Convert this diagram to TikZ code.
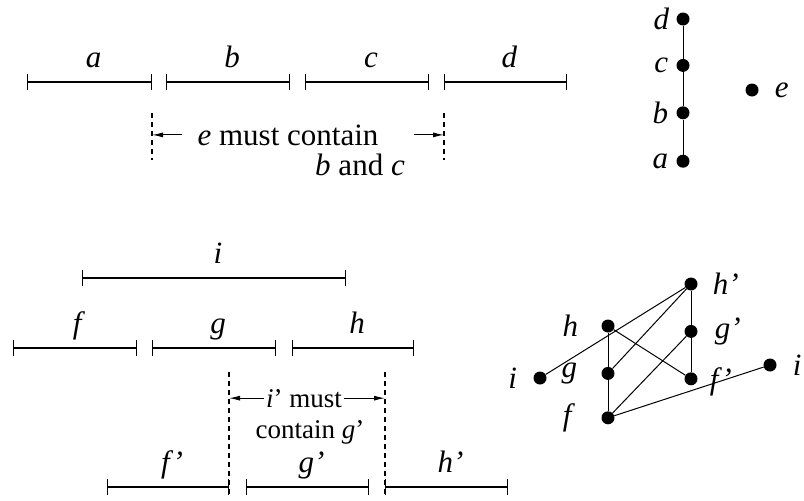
\documentclass[tikz,border=0pt]{standalone}
\usepackage{fontspec}
\setmainfont{Liberation Serif}
\usetikzlibrary{arrows.meta,positioning}

\begin{document}
\begin{tikzpicture}[
    x=1pt, y=-1pt,
    font=\fontsize{31pt}{34pt}\selectfont,
    ival/.style={arrows={Bar[width=16pt]-Bar[width=16pt]}, line width=1.3pt},
    ilbl/.style={midway, anchor=base, yshift=15pt, xshift=4pt, inner sep=0pt},
    guide/.style={dash pattern=on 5pt off 4pt, line width=1.1pt},
    arrow/.style={-{Latex[length=11pt,width=5pt]}, line width=1pt},
    txt/.style={anchor=base, inner sep=1pt},
    note/.style={anchor=base, inner sep=0pt, font=\fontsize{27pt}{30pt}\selectfont},
    dot/.style={circle, fill, inner sep=0pt, minimum size=13pt},
    plbl/.style={inner sep=0pt},
    edge/.style={line width=1pt}
]
    \useasboundingbox (0,0) rectangle (804,501);

    % Top intervals
    \coordinate (a1) at (27,82);  \coordinate (a2) at (152,82);
    \coordinate (b1) at (166,82); \coordinate (b2) at (290,82);
    \coordinate (c1) at (305,82); \coordinate (c2) at (429,82);
    \coordinate (d1) at (444,82); \coordinate (d2) at (567,82);
    \draw[ival] (a1) -- node[ilbl] (la) {\textit{a}} (a2);
    \draw[ival] (b1) -- node[ilbl] (lb) {\textit{b}} (b2);
    \draw[ival] (c1) -- node[ilbl] (lc) {\textit{c}} (c2);
    \draw[ival] (d1) -- node[ilbl] (ld) {\textit{d}} (d2);

    % Top note
    \coordinate (gtL1) at (152,113); \coordinate (gtL2) at (152,160);
    \coordinate (gtR1) at (444,113); \coordinate (gtR2) at (444,160);
    \draw[guide] (gtL1) -- (gtL2);
    \draw[guide] (gtR1) -- (gtR2);
    \node[txt] (emust) at (288,145) {\textit{e} must contain};
    \node[txt] (bandc) at (360,175) {\textit{b} and \textit{c}};
    \draw[arrow] ([xshift=-14pt]emust.west) -- (emust.west -| gtL1);
    \draw[arrow] ([xshift=34pt]emust.east) -- (emust.east -| gtR1);

    % Top poset
    \node[dot] (pd) at (683,19) {};
    \node[dot, below=33pt of pd] (pc) {};
    \node[dot, below=34pt of pc] (pb) {};
    \node[dot, below=35pt of pb] (pa) {};
    \node[dot] (pe) at (752,90) {};
    \node[plbl, left=7pt of pd] (lpd) {\textit{d}};
    \node[plbl, left=8pt of pc] (lpc) {\textit{c}};
    \node[plbl, left=8pt of pb] (lpb) {\textit{b}};
    \node[plbl, left=8pt of pa] (lpa) {\textit{a}};
    \node[plbl, right=16pt of pe] (lpe) {\textit{e}};
    \draw[edge] (pd) -- (pc) -- (pb) -- (pa);

    % Bottom intervals
    \coordinate (i1) at (82,278);   \coordinate (i2) at (346,278);
    \coordinate (f1) at (13,348);   \coordinate (f2) at (137,348);
    \coordinate (g1) at (152,348);  \coordinate (g2) at (276,348);
    \coordinate (h1) at (292,348);  \coordinate (h2) at (414,348);
    \coordinate (fp1) at (107,487); \coordinate (fp2) at (229,487);
    \coordinate (gp1) at (246,487); \coordinate (gp2) at (369,487);
    \coordinate (hp1) at (385,487); \coordinate (hp2) at (508,487);
    \draw[ival] (i1) -- node[ilbl] (li) {\textit{i}} (i2);
    \draw[ival] (f1) -- node[ilbl] (lf) {\textit{f}} (f2);
    \draw[ival] (g1) -- node[ilbl] (lg) {\textit{g}} (g2);
    \draw[ival] (h1) -- node[ilbl] (lh) {\textit{h}} (h2);
    \draw[ival] (fp1) -- node[ilbl] (lfp) {\textit{f’}} (fp2);
    \draw[ival] (gp1) -- node[ilbl] (lgp) {\textit{g’}} (gp2);
    \draw[ival] (hp1) -- node[ilbl] (lhp) {\textit{h’}} (hp2);

    % Bottom note
    \coordinate (gbL1) at (229,372); \coordinate (gbL2) at (229,495);
    \coordinate (gbR1) at (385,372); \coordinate (gbR2) at (385,495);
    \draw[guide] (gbL1) -- (gbL2);
    \draw[guide] (gbR1) -- (gbR2);
    \node[note] (imust) at (304,407) {\textit{i}’ must};
    \node[note] (contg) at (310,438) {contain \textit{g}’};
    \draw[arrow] ([xshift=-2pt]imust.west) -- (imust.west -| gbL1);
    \draw[arrow] ([xshift=2pt]imust.east) -- (imust.east -| gbR1);

    % Bottom poset
    \node[dot] (qhp) at (691,284) {};
    \node[dot, below=34pt of qhp] (qgp) {};
    \node[dot, below=34pt of qgp] (qfp) {};
    \node[dot] (qh) at (608,326) {};
    \node[dot, below=34pt of qh] (qg) {};
    \node[dot, below=31pt of qg] (qf) {};
    \node[dot] (qi1) at (540,378) {};
    \node[dot] (qi2) at (770,365) {};
    \node[plbl, left=16pt of qi1] (lqi1) {\textit{i}};
    \node[plbl, left=23pt of qh] (lqh) {\textit{h}};
    \node[plbl, left=24pt of qg] (lqg) {\textit{g}};
    \node[plbl, left=26pt of qf] (lqf) {\textit{f}};
    \node[plbl, right=15pt of qhp] (lqhp) {\textit{h’}};
    \node[plbl, right=17pt of qgp] (lqgp) {\textit{g’}};
    \node[plbl, right=12pt of qfp, yshift=-3pt] (lqfp) {\textit{f’}};
    \node[plbl, right=16pt of qi2] (lqi2) {\textit{i}};
    \draw[edge] (qi1) -- (qhp);
    \draw[edge] (qg) -- (qhp);
    \draw[edge] (qhp) -- (qgp) -- (qfp);
    \draw[edge] (qh) -- (qg) -- (qf);
    \draw[edge] (qh) -- (qfp);
    \draw[edge] (qf) -- (qgp);
    \draw[edge] (qf) -- (qi2);

\end{tikzpicture}
\end{document}
